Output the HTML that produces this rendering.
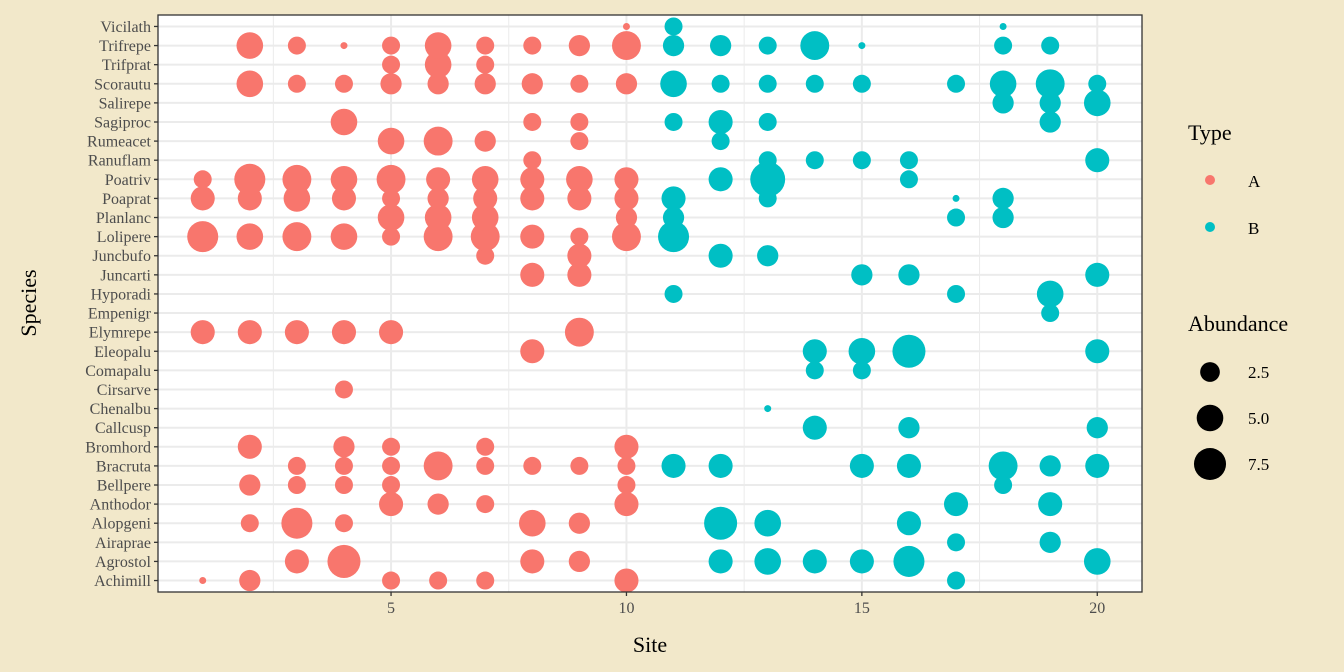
<!DOCTYPE html>
<html><head><meta charset="utf-8"><style>
body{margin:0;background:#F2E8CA;}
svg{display:block;font-family:"Liberation Serif",serif;}
</style></head><body>
<svg id="chart" width="1344" height="672" viewBox="0 0 1344 672">
<rect width="1344" height="672" fill="#F2E8CA"/>
<rect x="158" y="15" width="984" height="577" fill="#fff"/>
<g id="grid"></g>
<g id="marks"></g>
<rect x="158" y="15" width="984" height="577" fill="none" stroke="#333" stroke-width="1.3"/>
<g id="axes"></g>
<text x="650" y="652" font-size="22" text-anchor="middle">Site</text>
<text transform="translate(36,303) rotate(-90)" font-size="22" text-anchor="middle">Species</text>
<g>
<text x="1188" y="140" font-size="22">Type</text>
<circle cx="1210" cy="180" r="5" fill="#F8766D"/>
<text x="1248" y="187" font-size="17">A</text>
<circle cx="1210" cy="227" r="5" fill="#00BFC4"/>
<text x="1248" y="234" font-size="17">B</text>
</g>
<g id="sizeLegend">
<text x="1188" y="331" font-size="22">Abundance</text>
</g>
</svg>
<script>
const species=["Achimill","Agrostol","Airaprae","Alopgeni","Anthodor","Bellpere","Bracruta","Bromhord","Callcusp","Chenalbu","Cirsarve","Comapalu","Eleopalu","Elymrepe","Empenigr","Hyporadi","Juncarti","Juncbufo","Lolipere","Planlanc","Poaprat","Poatriv","Ranuflam","Rumeacet","Sagiproc","Salirepe","Scorautu","Trifprat","Trifrepe","Vicilath"];
const sites=[1,2,3,4,5,6,7,8,9,10,11,12,13,14,15,16,17,18,19,20];
const siteType=["A","A","A","A","A","A","A","A","A","A","B","B","B","B","B","B","B","B","B","B"];
const abund={
Achimill:[1,3,0,0,2,2,2,0,0,4,0,0,0,0,0,0,2,0,0,0],
Agrostol:[0,0,4,8,0,0,0,4,3,0,0,4,5,4,4,7,0,0,0,5],
Airaprae:[0,0,0,0,0,0,0,0,0,0,0,0,0,0,0,0,2,0,3,0],
Alopgeni:[0,2,7,2,0,0,0,5,3,0,0,8,5,0,0,4,0,0,0,0],
Anthodor:[0,0,0,0,4,3,2,0,0,4,0,0,0,0,0,0,4,0,4,0],
Bellpere:[0,3,2,2,2,0,0,0,0,2,0,0,0,0,0,0,0,2,0,0],
Bromhord:[0,4,0,3,2,0,2,0,0,4,0,0,0,0,0,0,0,0,0,0],
Bracruta:[0,0,2,2,2,6,2,2,2,2,4,4,0,0,4,4,0,6,3,4],
Callcusp:[0,0,0,0,0,0,0,0,0,0,0,0,0,4,0,3,0,0,0,3],
Chenalbu:[0,0,0,0,0,0,0,0,0,0,0,0,1,0,0,0,0,0,0,0],
Cirsarve:[0,0,0,2,0,0,0,0,0,0,0,0,0,0,0,0,0,0,0,0],
Comapalu:[0,0,0,0,0,0,0,0,0,0,0,0,0,2,2,0,0,0,0,0],
Eleopalu:[0,0,0,0,0,0,0,4,0,0,0,0,0,4,5,8,0,0,0,4],
Elymrepe:[4,4,4,4,4,0,0,0,6,0,0,0,0,0,0,0,0,0,0,0],
Empenigr:[0,0,0,0,0,0,0,0,0,0,0,0,0,0,0,0,0,0,2,0],
Hyporadi:[0,0,0,0,0,0,0,0,0,0,2,0,0,0,0,0,2,0,5,0],
Juncarti:[0,0,0,0,0,0,0,4,4,0,0,0,0,0,3,3,0,0,0,4],
Juncbufo:[0,0,0,0,0,0,2,0,4,0,0,4,3,0,0,0,0,0,0,0],
Lolipere:[7,5,6,5,2,6,6,4,2,6,7,0,0,0,0,0,0,0,0,0],
Planlanc:[0,0,0,0,5,5,5,0,0,3,3,0,0,0,0,0,2,3,0,0],
Poaprat:[4,4,5,4,2,3,4,4,4,4,4,0,2,0,0,0,1,3,0,0],
Poatriv:[2,7,6,5,6,4,5,4,5,4,0,4,9,0,0,2,0,0,0,0],
Ranuflam:[0,0,0,0,0,0,0,2,0,0,0,0,2,2,2,2,0,0,0,4],
Rumeacet:[0,0,0,0,5,6,3,0,2,0,0,2,0,0,0,0,0,0,0,0],
Sagiproc:[0,0,0,5,0,0,0,2,2,0,2,4,2,0,0,0,0,0,3,0],
Salirepe:[0,0,0,0,0,0,0,0,0,0,0,0,0,0,0,0,0,3,3,5],
Scorautu:[0,5,2,2,3,3,3,3,2,3,5,2,2,2,2,0,2,5,6,2],
Trifprat:[0,0,0,0,2,5,2,0,0,0,0,0,0,0,0,0,0,0,0,0],
Trifrepe:[0,5,2,1,2,5,2,2,3,6,3,3,2,6,1,0,0,2,2,0],
Vicilath:[0,0,0,0,0,0,0,0,0,1,2,0,0,0,0,0,0,1,0,0]
};
const xTicks=[5,10,15,20];
const xMinor=[2.5,7.5,12.5,17.5];
const sizeBreaks=[2.5,5.0,7.5];
const sizeLabels=["2.5","5.0","7.5"];
const colors={A:"#F8766D",B:"#00BFC4"};
const NS="http://www.w3.org/2000/svg";
const X0=158,X1=1142,Y0=15,Y1=592;
function xs(v){return X0+(v-0.05)/20.9*(X1-X0);}
function ys(i){return Y1-(i+1-0.4)/30.2*(Y1-Y0);}
function rs(v){return v<=1?3.5:Math.sqrt(32*v+17);}
function mk(tag,attrs,parent){const e=document.createElementNS(NS,tag);for(const k in attrs)e.setAttribute(k,attrs[k]);parent.appendChild(e);return e;}
const grid=document.getElementById('grid'),marks=document.getElementById('marks'),axes=document.getElementById('axes');
xMinor.forEach(v=>{const l=mk('line',{x1:xs(v),x2:xs(v),y1:Y0,y2:Y1,stroke:'#EBEBEB','stroke-width':1},grid);

});
xTicks.forEach(v=>{const l=mk('line',{x1:xs(v),x2:xs(v),y1:Y0,y2:Y1,stroke:'#EBEBEB','stroke-width':2},grid);


const t=mk('line',{x1:xs(v),x2:xs(v),y1:Y1,y2:Y1+4,stroke:'#333','stroke-width':1.3},axes);


const tx=mk('text',{x:xs(v),y:Y1+21,'font-size':16,'text-anchor':'middle',fill:'#4D4D4D'},axes);tx.textContent=v;

});
species.forEach((s,i)=>{const y=ys(i);
const l=mk('line',{x1:X0,x2:X1,y1:y,y2:y,stroke:'#EBEBEB','stroke-width':2},grid);


const t=mk('line',{x1:X0-4,x2:X0,y1:y,y2:y,stroke:'#333','stroke-width':1.3},axes);


const tx=mk('text',{x:X0-7,y:y+5.5,'font-size':16,'text-anchor':'end',fill:'#4D4D4D'},axes);tx.textContent=s;


abund[s].forEach((v,j)=>{if(v>0){const c=mk('circle',{cx:xs(sites[j]),cy:y,r:rs(v),fill:colors[siteType[j]]},marks);

}});});
const sl=document.getElementById('sizeLegend');
sizeBreaks.forEach((v,i)=>{const y=372+i*46;
const c=mk('circle',{cx:1210,cy:y,r:rs(v),fill:'#000'},sl);


const t=mk('text',{x:1248,y:y+6,'font-size':17},sl);t.textContent=sizeLabels[i];

});
</script>
</body></html>
